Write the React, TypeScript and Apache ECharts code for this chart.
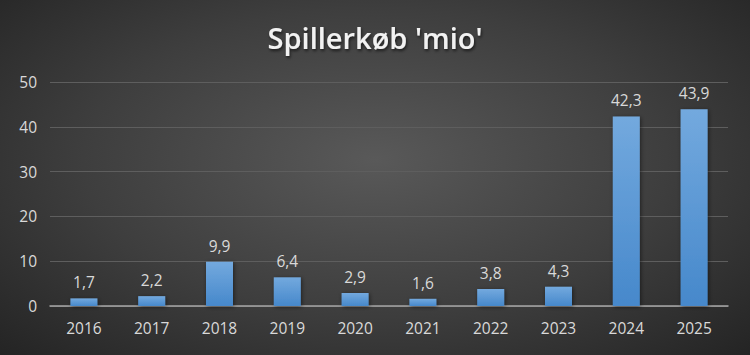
import React, { useEffect, useRef } from "react";
import * as echarts from "echarts";

const categories = ["2016", "2017", "2018", "2019", "2020", "2021", "2022", "2023", "2024", "2025"];
const values = [1.7, 2.2, 9.9, 6.4, 2.9, 1.6, 3.8, 4.3, 42.3, 43.9];
const titleText = "Spillerkøb 'mio'";

export default function App() {
  const ref = useRef<HTMLDivElement>(null);
  useEffect(() => {
    document.body.style.margin = "0";
    const chart = echarts.init(ref.current!, null, { renderer: "svg" });
    chart.setOption({
      animation: false,
      backgroundColor: "transparent",
      title: {
        text: titleText,
        left: "center",
        top: 18,
        textStyle: {
          color: "#f2f2f2",
          fontFamily: "Open Sans",
          fontWeight: 600,
          fontSize: 29,
          textShadowColor: "rgba(0,0,0,0.6)",
          textShadowBlur: 3,
          textShadowOffsetX: 1,
          textShadowOffsetY: 2,
        },
      },
      grid: { left: 50, right: 22, top: 82, bottom: 49 },
      xAxis: {
        type: "category",
        data: categories,
        axisLine: { lineStyle: { color: "#a6a6a6", width: 1.5 } },
        axisTick: { show: false },
        axisLabel: { color: "#d9d9d9", fontSize: 15.5, fontFamily: "Open Sans", margin: 14 },
      },
      yAxis: {
        type: "value",
        min: 0,
        max: 50,
        interval: 10,
        axisLine: { show: false },
        axisTick: { show: false },
        axisLabel: { color: "#d9d9d9", fontSize: 15.5, fontFamily: "Open Sans", margin: 13 },
        splitLine: { lineStyle: { color: "#5e5e5e", width: 1 } },
      },
      series: [
        {
          type: "bar",
          data: values,
          barWidth: 27,
          itemStyle: {
            color: new echarts.graphic.LinearGradient(0, 0, 0, 1, [
              { offset: 0, color: "#73a9de" },
              { offset: 1, color: "#4688cb" },
            ]),
            shadowColor: "rgba(0,0,0,0.5)",
            shadowBlur: 4,
            shadowOffsetX: 1,
            shadowOffsetY: 1,
          },
          label: {
            show: true,
            position: "top",
            distance: 8,
            color: "#d9d9d9",
            fontSize: 15.5,
            fontFamily: "Open Sans",
            formatter: (p: any) => String(p.value).replace(".", ","),
          },
        },
      ],
    });
    return () => chart.dispose();
  }, []);
  return (
    <div
      ref={ref}
      style={{
        width: 750,
        height: 355,
        background: "radial-gradient(ellipse at 50% 45%, #595959 0%, #3e3e3e 55%, #242424 100%)",
      }}
    />
  );
}
